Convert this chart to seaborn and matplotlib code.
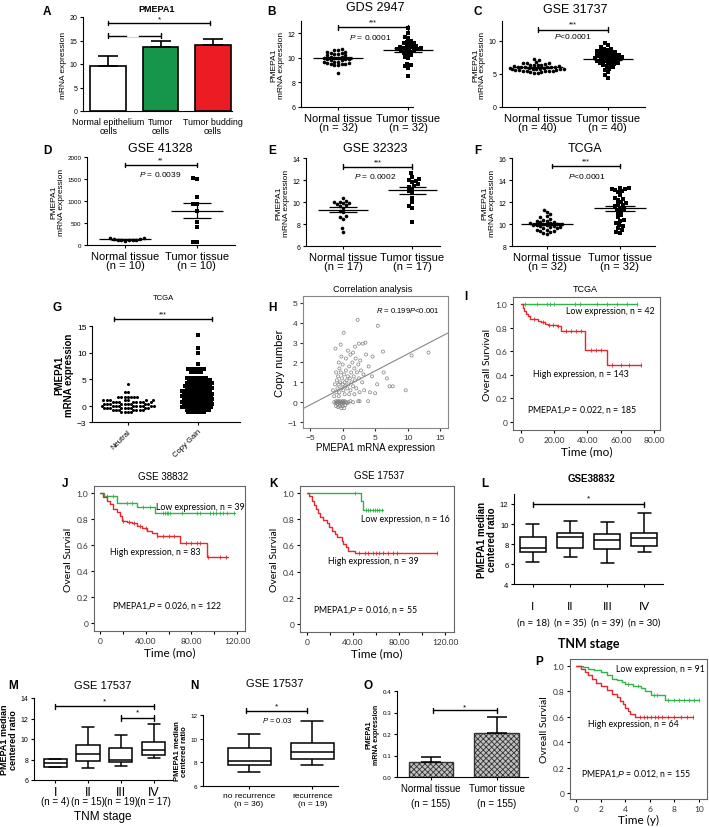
import numpy as np
import pandas as pd
import seaborn as sns
import matplotlib.pyplot as plt
import matplotlib.transforms as mtransforms

sns.set_style('ticks')
plt.rcParams['font.family'] = ['Liberation Sans', 'DejaVu Sans']
plt.rcParams['mathtext.fontset'] = 'custom'
plt.rcParams['mathtext.rm'] = 'Liberation Sans'
plt.rcParams['mathtext.it'] = 'Liberation Sans:italic'
plt.rcParams['text.color'] = 'black'
plt.rcParams['axes.labelcolor'] = 'black'
plt.rcParams['axes.edgecolor'] = 'black'
plt.rcParams['xtick.color'] = 'black'
plt.rcParams['ytick.color'] = 'black'
plt.rcParams['axes.linewidth'] = 0.8
plt.rcParams['xtick.major.width'] = 0.8
plt.rcParams['ytick.major.width'] = 0.8
plt.rcParams['xtick.major.size'] = 2.5
plt.rcParams['ytick.major.size'] = 2.5
plt.rcParams['xtick.major.pad'] = 1.5
plt.rcParams['ytick.major.pad'] = 1.5
plt.rcParams['hatch.linewidth'] = 0.6

W, H = 709, 828
GREEN = '#2fb44a'
RED = '#e8262b'

# ---------------- data ----------------
# A
a_groups = ['Normal epithelium\ncells', 'Tumor\ncells', 'Tumor budding\ncells']
a_means = [9.6, 13.6, 14.0]
a_errs = [2.2, 1.2, 1.4]
a_colors = ['white', '#16964a', '#ec1c24']

# B  GDS 2947
b_normal = [10.7, 10.6, 10.6, 10.5, 10.5, 10.4, 10.4, 10.3, 10.3, 10.2, 10.2, 10.1, 10.1,
            10.0, 10.0, 10.0, 9.9, 9.9, 9.9, 9.8, 9.8, 9.7, 9.7, 9.7, 9.6, 9.6, 9.5, 9.5,
            9.5, 9.4, 9.4, 8.8]
b_tumor = [12.4, 12.0, 11.7, 11.6, 11.4, 11.3, 11.2, 11.2, 11.1, 11.0, 11.0, 10.9, 10.9,
           10.8, 10.8, 10.8, 10.7, 10.7, 10.6, 10.6, 10.6, 10.5, 10.4, 10.3, 10.2, 10.1,
           10.0, 9.5, 9.4, 9.3, 9.2, 8.5]

# C  GSE 31737
c_normal = [7.2, 7.1, 6.8, 6.7, 6.7, 6.6, 6.5, 6.4, 6.4, 6.3, 6.3, 6.2, 6.2, 6.1, 6.1, 6.1,
            6.0, 6.0, 6.0, 5.9, 5.9, 5.9, 5.8, 5.8, 5.8, 5.7, 5.7, 5.7, 5.6, 5.6, 5.6, 5.5,
            5.5, 5.5, 5.4, 5.4, 5.3, 5.3, 5.2, 5.2]
c_tumor = [9.6, 9.3, 9.0, 8.8, 8.7, 8.6, 8.5, 8.4, 8.3, 8.2, 8.1, 8.0, 7.9, 7.8, 7.8, 7.7,
           7.6, 7.5, 7.5, 7.4, 7.4, 7.3, 7.2, 7.1, 7.0, 7.0, 6.9, 6.8, 6.7, 6.6, 6.5, 6.4,
           6.3, 6.2, 6.0, 5.8, 5.6, 5.3, 4.8, 4.4]

# D  GSE 41328
d_normal = [160, 150, 140, 135, 125, 120, 115, 110, 105, 100]
d_tumor = [1530, 1500, 1085, 935, 940, 780, 515, 400, 60, 60]

# E  GSE 32323
e_normal = [10.4, 10.1, 10.0, 10.0, 9.9, 9.9, 9.8, 9.7, 9.6, 9.5, 9.2, 9.1, 8.7, 8.6, 8.5,
            7.6, 7.3]
e_tumor = [12.6, 12.3, 12.1, 12.0, 11.9, 11.8, 11.6, 11.5, 11.4, 11.2, 11.0, 10.8, 10.4,
           10.0, 9.6, 9.5, 8.2]

# F  TCGA
f_normal = [11.3, 11.1, 10.9, 10.7, 10.6, 10.5, 10.4, 10.3, 10.3, 10.2, 10.2, 10.1, 10.1,
            10.0, 10.0, 10.0, 9.9, 9.9, 9.9, 9.8, 9.8, 9.7, 9.7, 9.6, 9.6, 9.5, 9.5, 9.4,
            9.4, 9.3, 9.2, 9.1]
f_tumor = [13.3, 13.3, 13.2, 13.2, 13.1, 13.0, 12.9, 12.6, 12.4, 12.3, 12.2, 12.0, 11.9,
           11.8, 11.7, 11.6, 11.5, 11.4, 11.3, 11.2, 11.0, 10.8, 10.6, 10.4, 10.3, 10.1,
           9.9, 9.8, 9.6, 9.5, 9.3, 9.2]

# G  TCGA copy number (dot rows: level and number of dots in the row)
g_neu_levels = [-1.2, -0.8, -0.4, 0.0, 0.4, 0.8, 1.1, 1.7, 2.6, 4.1]
g_neu_counts = [4, 7, 9, 10, 9, 8, 7, 7, 2, 1]
g_gain_levels = [-1.2, -0.7, -0.2, 0.3, 0.8, 1.3, 1.8, 2.3, 2.8, 3.3, 3.8, 4.3, 4.8, 5.3,
                 6.4, 7.0, 7.8, 10.0, 10.8, 13.3]
g_gain_counts = [6, 8, 10, 10, 10, 10, 10, 10, 10, 9, 9, 9, 8, 7, 4, 6, 1, 1, 1, 1]

# H  correlation
h_x = [-1.3, -1.1, -1.0, -0.9, -0.8, -0.7, -0.6, -0.5, -0.4, -0.3, -0.2, -0.1, 0.0, 0.1,
       0.2, 0.3, 0.5, 0.7, 0.9, 1.2, 1.6, 2.4, 3.9, -1.0, -0.7, -0.4, -0.2, 0.0, 0.2, 0.4,
       -1.5, -1.2, -1.0, -0.9, -0.8, -0.7, -0.6, -0.5, -0.4, -0.3, -0.2, -0.1, 0.0, 0.1,
       0.2, 0.3, 0.4, 0.5, 0.6, 0.7, 0.8, 0.9, 1.0, 1.1, 1.2, 1.3, 1.4, 1.5, 1.6, 1.7, 1.8,
       1.9, 2.0, 2.1, 2.2, 2.4, 2.5, 2.6, 2.8, 3.0, 3.2, 0.5, 0.0, -0.5, 1.2, 0.8, 1.6,
       -1.0, -0.2, 2.7, 3.3, 0.3, -0.6, 1.0, 1.8, -1.3,
       2.3, 5.4, 0.15, 3.1, 2.5, -1.1, 6.2, 10.6, 13.2, 4.6, -0.6, 6.3, 6.8, 7.7, 7.2, 9.7,
       5.0, 2.6, 4.5, 4.0, 3.6, 5.3, 4.2, 3.5, 1.9, -0.3]
h_y = [0.0, -0.05, 0.05, 0.0, -0.1, 0.05, 0.0, -0.05, 0.05, 0.0, -0.1, 0.0, 0.05, -0.05,
       0.0, 0.05, 0.0, -0.05, 0.0, 0.05, 0.0, 0.05, 0.05, -0.2, -0.25, -0.2, -0.3, -0.2,
       -0.3, -0.15,
       0.6, 0.9, 0.5, 1.1, 0.7, 1.3, 0.9, 0.5, 1.0, 1.5, 0.7, 1.2, 0.9, 0.6, 1.4, 1.0, 0.8,
       1.6, 1.1, 0.7, 1.3, 0.9, 1.8, 1.2, 0.6, 1.5, 1.0, 2.0, 0.8, 1.3, 1.7, 1.1, 2.2, 0.7,
       1.5, 1.9, 1.2, 0.5, 1.6, 1.0, 1.4, 2.2, 1.9, 1.7, 2.4, 2.6, 2.5, 1.5, 2.3, 2.1, 0.6,
       0.4, 0.3, 0.4, 0.4, 0.3,
       4.15, 3.85, 3.5, 2.95, 2.95, 2.7, 2.55, 2.35, 2.5, 2.3, 2.0, 1.5, 1.2, 0.8, 0.8,
       0.6, 0.45, 0.05, 1.3, 1.8, 2.4, 0.9, 0.5, 3.0, 2.8, 2.9]
h_slope = 0.171
h_intercept = 0.72

# I  TCGA survival
i_low_t = [0, 70]
i_low_s = [1.0, 1.0]
i_low_cens = [2.4, 9.6, 15.6, 17.4, 19.8, 32.4, 35.4, 45.6, 51.6, 57.6, 63.6, 69.6]
i_high_t = [0, 1.2, 2, 3, 4, 5.4, 10, 12, 14.5, 16, 21.7, 24, 38.5, 51.8, 72]
i_high_s = [1.0, 0.97, 0.94, 0.92, 0.9, 0.87, 0.86, 0.85, 0.83, 0.82, 0.81, 0.77, 0.61,
            0.485, 0.485]
i_high_cens = [8, 13, 17, 19, 22, 27, 30, 33, 36, 42, 45, 48, 55, 60, 65, 72]

# J  GSE 38832 survival
j_low_t = [0, 3.8, 14.6, 32, 48, 118]
j_low_s = [1.0, 0.98, 0.92, 0.89, 0.845, 0.845]
j_low_cens = [5.8, 11.7, 23.3, 27.7, 37.9, 43.8, 55.5, 57, 58.4, 59.9, 61.3, 71.5, 84.7,
              87.6, 96.3, 99.3, 102, 105, 108, 111, 117]
j_high_t = [0, 2.9, 5.8, 8.8, 11.7, 14.6, 17.5, 19.0, 23.3, 27.7, 32.0, 36.5, 40.9, 45.3,
            49.6, 70.0, 93.5, 112.5]
j_high_s = [1.0, 0.967, 0.941, 0.915, 0.877, 0.851, 0.826, 0.787, 0.779, 0.769, 0.749,
            0.731, 0.71, 0.692, 0.672, 0.615, 0.51, 0.51]
j_high_cens = [20, 25, 30, 35, 40, 50, 55, 60, 65, 75, 80, 85, 88, 95, 105, 110]

# K  GSE 17537 survival
k_low_t = [0, 47, 49, 66]
k_low_s = [1.0, 0.94, 0.87, 0.87]
k_low_cens = [41.7, 51, 53, 55, 57, 59, 61, 63, 65]
k_high_t = [0, 2.0, 4.1, 6.1, 7.8, 9.9, 11.3, 14.2, 17.1, 19.4, 21.4, 24.3, 26.4, 30.1,
            31.6, 33.9, 35.9, 41.7, 112.8]
k_high_s = [1.0, 0.975, 0.942, 0.909, 0.879, 0.848, 0.82, 0.797, 0.769, 0.738, 0.713,
            0.687, 0.662, 0.637, 0.611, 0.586, 0.56, 0.54, 0.54]
k_high_cens = [45, 50, 53, 57, 60, 63, 66, 70, 75, 78, 112.8]

# L  GSE38832 TNM stage (min, Q1, median, Q3, max)
l_stages = ['I', 'II', 'III', 'IV']
l_n = [18, 35, 39, 30]
l_stats = [[6.2, 7.2, 7.58, 8.75, 10.0],
           [6.7, 7.58, 8.7, 9.1, 10.3],
           [6.1, 7.5, 8.4, 9.0, 10.25],
           [7.2, 7.8, 8.6, 9.15, 11.1]]

# M  GSE 17537 TNM stage
m_stages = ['I', 'II', 'III', 'IV']
m_n = [4, 15, 19, 17]
m_stats = [[7.25, 7.28, 7.7, 8.03, 8.05],
           [7.2, 7.9, 8.55, 9.38, 11.15],
           [7.38, 7.77, 7.93, 9.08, 10.43],
           [8.16, 8.43, 8.92, 9.7, 11.48]]

# N  GSE 17537 recurrence
n_groups = ['no recurrence', 'recurrence']
n_n = [36, 19]
n_stats = [[7.15, 7.75, 8.1, 9.2, 10.4],
           [7.75, 8.25, 8.85, 9.6, 11.5]]

# O
o_groups = ['Normal tissue', 'Tumor tissue']
o_means = [0.07, 0.205]
o_errs = [0.023, 0.075]

# P
p_low_t = [0, 0.6, 1.0, 1.5, 2.0, 2.5, 2.9, 3.3, 3.7, 4.0, 4.6, 5.3, 5.6, 6.1, 7.2, 10.0]
p_low_s = [1.0, 0.99, 0.98, 0.965, 0.95, 0.93, 0.9, 0.89, 0.875, 0.858, 0.845, 0.824,
           0.8, 0.775, 0.735, 0.735]
p_low_cens = [4.2, 5.0, 6.3, 6.6, 7.5, 8.0, 8.4, 8.8, 9.2, 9.6, 10.0]
p_high_t = [0, 0.4, 0.7, 1.0, 1.3, 1.6, 2.0, 2.5, 2.9, 3.3, 3.6, 3.8, 4.0, 4.2, 4.4, 4.8,
            9.5]
p_high_s = [1.0, 0.98, 0.95, 0.93, 0.9, 0.87, 0.845, 0.81, 0.78, 0.755, 0.727, 0.7, 0.67,
            0.645, 0.62, 0.6, 0.6]
p_high_cens = [5.2, 5.5, 5.8, 6.1, 6.4, 6.7, 7.0, 7.5, 8.0, 8.5, 9.0, 9.5]

# ---------------- helpers ----------------
fig = plt.figure(figsize=(W / 100, H / 100), dpi=100)


def add_ax(l, t, r, b):
    return fig.add_axes([l / W, 1 - b / H, (r - l) / W, (b - t) / H])


def ftext(x, y, s, **kw):
    kw.setdefault('ha', 'center')
    kw.setdefault('va', 'center')
    fig.text(x / W, 1 - y / H, s, **kw)


def bracket(ax, x0, x1, y, h, text=None, ty=None, fs=6):
    ax.plot([x0, x1], [y, y], color='black', lw=1, clip_on=False)
    ax.plot([x0, x0], [y - h, y + h], color='black', lw=1, clip_on=False)
    ax.plot([x1, x1], [y - h, y + h], color='black', lw=1, clip_on=False)
    if text:
        ax.text((x0 + x1) / 2, ty, text, ha='center', va='center', fontsize=fs)


def dots(ax, normal, tumor, n, xlim, ylim, yticks, size=2.6):
    df = pd.DataFrame({'group': ['Normal'] * len(normal) + ['Tumor'] * len(tumor),
                       'value': list(normal) + list(tumor)})
    order = ['Normal', 'Tumor']
    for grp, mk in zip(order, ['o', 's']):
        sns.swarmplot(data=df[df.group == grp], x='group', y='value', order=order,
                      color='black', marker=mk, size=size, linewidth=0, ax=ax,
                      warn_thresh=1)
    for i, vals in enumerate([normal, tumor]):
        m = np.mean(vals)
        se = np.std(vals, ddof=1) / np.sqrt(len(vals))
        ax.hlines(m, i - 0.36, i + 0.36, color='black', lw=0.9, zorder=3)
        ax.vlines(i, m - se, m + se, color='black', lw=0.9, zorder=3)
        ax.hlines([m - se, m + se], i - 0.2, i + 0.2, color='black', lw=0.9, zorder=3)
    for c in ax.collections:
        c.set_clip_on(False)
    ax.set_xlim(*xlim)
    ax.set_ylim(*ylim)
    ax.set_yticks(yticks)
    ax.set_xticks([0, 1])
    ax.set_xticklabels([f'Normal tissue\n(n = {n})', f'Tumor tissue\n(n = {n})'],
                       fontsize=8, linespacing=0.95)
    ax.tick_params(axis='y', labelsize=5)
    ax.set_xlabel('')
    ax.set_ylabel('PMEPA1\nmRNA expression', fontsize=6, linespacing=1.0, labelpad=2)
    sns.despine(ax=ax)


def km_curve(ax, t, s, cens, color):
    sns.lineplot(x=t, y=s, drawstyle='steps-post', estimator=None, color=color,
                 lw=1, ax=ax)
    idx = np.searchsorted(t, cens, side='right') - 1
    ax.plot(cens, np.array(s)[idx], linestyle='none', marker='|', ms=2.5, mew=0.6,
            color=color)


def km_axes(ax, xlim, ylim, xticks, xlabels, ylabel, xlabel):
    ax.set_xlim(*xlim)
    ax.set_ylim(*ylim)
    ax.set_yticks([0, 0.2, 0.4, 0.6, 0.8, 1.0])
    ax.set_yticklabels(['0', '0.2', '0.4', '0.6', '0.8', '1.0'])
    ax.set_xticks(xticks)
    ax.set_xticklabels(xlabels)
    ax.tick_params(labelsize=6)
    for lbl in ax.get_xticklabels() + ax.get_yticklabels():
        lbl.set_family('Lato')
        lbl.set_color('#333333')
    for sp in ax.spines.values():
        sp.set_color('#666666')
        sp.set_linewidth(0.8)
    ax.set_ylabel(ylabel, fontsize=7.5, family='Lato', labelpad=3)
    ax.set_xlabel(xlabel, fontsize=8.5, family='Lato', labelpad=2)


def boxes(ax, labels, stats, width):
    x = [lab for lab, st in zip(labels, stats) for _ in st]
    y = [v for st in stats for v in st]
    sns.boxplot(x=x, y=y, order=labels, whis=(0, 100), width=width, color='white',
                linecolor='black', linewidth=1.1, ax=ax)
    ax.set_xlabel('')
    sns.despine(ax=ax)


LAB = dict(fontsize=8.5, fontweight='bold')

# ---------------- A ----------------
ax = add_ax(83, 18, 232, 112)
sns.barplot(x=a_groups, y=a_means, hue=a_groups, palette=a_colors, legend=False,
            saturation=1, edgecolor='black', linewidth=1.2, width=0.68, ax=ax)
ax.errorbar(range(3), a_means, yerr=[np.zeros(3), a_errs], fmt='none', ecolor='black',
            elinewidth=1.2, capsize=7, capthick=1.2)
ax.set_xlim(-0.48, 2.36)
ax.set_ylim(0, 20)
ax.set_yticks([0, 5, 10, 15, 20])
ax.tick_params(axis='y', labelsize=5)
ax.tick_params(axis='x', labelsize=6.4, length=0, pad=4.5)
for lbl in ax.get_xticklabels():
    lbl.set_linespacing(0.95)
ax.set_ylabel('mRNA expression', fontsize=6, labelpad=2)
bracket(ax, 0, 1.94, 18.7, 0.5, '*', 19.7)
bracket(ax, 0, 1.0, 16.0, 0.5)
ax.plot([0.37, 0.57], [16.0, 16.0], color='white', lw=1.6, clip_on=False)
sns.despine(ax=ax)
ftext(157, 10, 'PMEPA1', fontsize=6.5, fontweight='bold')
ftext(47, 12, 'A', **LAB)

# ---------------- B ----------------
ax = add_ax(301, 22, 413, 108)
dots(ax, b_normal, b_tumor, 32, (-0.53, 1.07), (6, 13), [6, 8, 10, 12])
bracket(ax, 0, 1, 12.5, 0.2, '***', 12.95, fs=5)
ax.text(0.46, 11.75, '$P$ = 0.0001', ha='center', va='center', fontsize=6)
ftext(375, 8, 'GDS 2947', fontsize=9)
ftext(272, 12, 'B', **LAB)

# ---------------- C ----------------
ax = add_ax(502, 22, 645, 108)
dots(ax, c_normal, c_tumor, 40, (-0.51, 1.53), (0, 13), [0, 5, 10])
bracket(ax, 0, 1, 11.7, 0.35, '***', 12.6, fs=5)
ax.text(0.5, 10.75, '$P$<0.0001', ha='center', va='center', fontsize=6)
ftext(575, 10, 'GSE 31737', fontsize=9)
ftext(478, 12, 'C', **LAB)

# ---------------- D ----------------
ax = add_ax(87, 158, 235, 246)
dots(ax, d_normal, d_tumor, 10, (-0.53, 1.53), (0, 2000), [0, 500, 1000, 1500, 2000])
ax.tick_params(axis='y', labelsize=4.5)
bracket(ax, 0, 1, 1818, 55, '**', 1930, fs=5)
ax.text(0.49, 1636, '$P$ = 0.0039', ha='center', va='center', fontsize=6)
ftext(160, 149, 'GSE 41328', fontsize=9)
ftext(47, 151, 'D', **LAB)

# ---------------- E ----------------
ax = add_ax(306, 159, 440, 247)
dots(ax, e_normal, e_tumor, 17, (-0.54, 1.4), (6, 14), [6, 8, 10, 12, 14])
bracket(ax, 0, 1, 13.2, 0.22, '***', 13.65, fs=5)
ax.text(0.46, 12.45, '$P$ = 0.0002', ha='center', va='center', fontsize=6)
ftext(375, 149, 'GSE 32323', fontsize=9)
ftext(272, 151, 'E', **LAB)

# ---------------- F ----------------
ax = add_ax(512, 159, 655, 247)
dots(ax, f_normal, f_tumor, 32, (-0.48, 1.48), (8, 16), [8, 10, 12, 14, 16])
bracket(ax, 0.07, 1, 15.27, 0.22, '***', 15.75, fs=5)
ax.text(0.55, 14.45, '$P$<0.0001', ha='center', va='center', fontsize=6)
ftext(585, 149, 'TCGA', fontsize=9)
ftext(478, 151, 'F', **LAB)

# ---------------- G ----------------
ax = add_ax(92, 327, 240, 423)
g_df = pd.DataFrame({
    'group': ['Neutral'] * int(np.sum(g_neu_counts)) + ['Copy Gain'] * int(np.sum(g_gain_counts)),
    'value': np.concatenate([np.repeat(g_neu_levels, g_neu_counts),
                             np.repeat(g_gain_levels, g_gain_counts)])})
g_order = ['Neutral', 'Copy Gain']
for grp, mk in zip(g_order, ['o', 's']):
    sns.swarmplot(data=g_df[g_df.group == grp], x='group', y='value', order=g_order,
                  color='black', marker=mk, size=2.2, linewidth=0, ax=ax, warn_thresh=1)
ax.set_xlim(-0.51, 1.6)
ax.set_ylim(-3, 15)
ax.set_yticks([-3, 0, 5, 10, 15])
ax.tick_params(axis='y', labelsize=6)
ax.set_xticks([0, 1])
ax.set_xticklabels(g_order, rotation=45, ha='right', rotation_mode='anchor', fontsize=5.5)
ax.set_xlabel('')
ax.set_ylabel('PMEPA1\nmRNA expression', fontsize=7, fontweight='bold', linespacing=1.0,
              labelpad=2)
bracket(ax, -0.19, 1.2, 16.3, 0.45, '***', 17.3, fs=5)
sns.despine(ax=ax)
ftext(163, 298, 'TCGA', fontsize=5.5)
ftext(57, 308, 'G', **LAB)

# ---------------- H ----------------
ax = add_ax(303, 297, 448, 429)
sns.scatterplot(x=h_x, y=h_y, marker='o', facecolors='none', edgecolor='#808080', s=5,
                linewidth=0.5, ax=ax)
ax.axline((0, h_intercept), slope=h_slope, color='#888888', lw=0.8)
ax.set_xlim(-6.1, 16.2)
ax.set_ylim(-1.3, 5.35)
ax.set_xticks([-5, 0, 5, 10, 15])
ax.set_yticks([-1, 0, 1, 2, 3, 4, 5])
ax.tick_params(labelsize=6, colors='#333333')
for sp in ax.spines.values():
    sp.set_color('#888888')
ax.set_xlabel('PMEPA1 mRNA expression', fontsize=7, labelpad=1)
ax.set_ylabel('Copy number', fontsize=8, labelpad=2)
ax.text(0.72, 0.9, '$R$ = 0.199$P$<0.001', transform=ax.transAxes, ha='center',
        va='center', fontsize=5.5)
ftext(373, 290, 'Correlation analysis', fontsize=6.5)
ftext(272, 308, 'H', **LAB)

# ---------------- I ----------------
ax = add_ax(513, 298, 660, 431)
km_curve(ax, i_low_t, i_low_s, i_low_cens, GREEN)
km_curve(ax, i_high_t, i_high_s, i_high_cens, RED)
km_axes(ax, (-4.8, 83.6), (-0.068, 1.06), [0, 20, 40, 60, 80],
        ['0', '20.00', '40.00', '60.00', '80.00'], 'Overall Survival', 'Time (mo)')
ftext(610, 311, 'Low expression, n = 42', fontsize=6.3, family='Lato')
ftext(581, 375, 'High expression, n = 143', fontsize=6.3, family='Lato')
ftext(582, 410, 'PMEPA1,$P$ = 0.022, n = 185', fontsize=6.3, family='Lato')
ftext(585, 290, 'TCGA', fontsize=6.5)
ftext(466, 297, 'I', **LAB)

# ---------------- J ----------------
ax = add_ax(94, 487, 245, 632)
km_curve(ax, j_low_t, j_low_s, j_low_cens, GREEN)
km_curve(ax, j_high_t, j_high_s, j_high_cens, RED)
km_axes(ax, (-5.3, 127), (-0.06, 1.054), [0, 40, 80, 120],
        ['0', '40.00', '80.00', '120.00'], 'Overal Survial', 'Time (mo)')
ax.set_xticks([20, 60, 100], minor=True)
ax.tick_params(which='minor', length=2.5, width=0.8)
ftext(200, 507, 'Low expression, n = 39', fontsize=6.3, family='Lato')
ftext(155, 553, 'High expression, n = 83', fontsize=6.3, family='Lato')
ftext(167, 606, 'PMEPA1,$P$ = 0.026, n = 122', fontsize=6.3, family='Lato')
ftext(163, 477, 'GSE 38832', fontsize=7)
ftext(65, 484, 'J', **LAB)

# ---------------- K ----------------
ax = add_ax(300, 487, 454, 633)
km_curve(ax, k_low_t, k_low_s, k_low_cens, GREEN)
km_curve(ax, k_high_t, k_high_s, k_high_cens, RED)
km_axes(ax, (-6.1, 127.8), (-0.061, 1.053), [0, 40, 80, 120],
        ['0', '40.00', '80.00', '120.00'], 'Overal Survial', 'Time (mo)')
ax.set_xticks([20, 60, 100], minor=True)
ax.tick_params(which='minor', length=2.5, width=0.8)
ftext(405, 520, 'Low expression, n = 16', fontsize=6.3, family='Lato')
ftext(373, 562, 'High expression, n = 39', fontsize=6.3, family='Lato')
ftext(365, 610, 'PMEPA1,$P$ = 0.016, n = 55', fontsize=6.3, family='Lato')
ftext(379, 476, 'GSE 17537', fontsize=7)
ftext(273, 484, 'K', **LAB)

# ---------------- L ----------------
ax = add_ax(514, 495, 663, 585)
boxes(ax, l_stages, l_stats, 0.7)
ax.set_xlim(-0.51, 3.5)
ax.set_ylim(4, 13)
ax.set_yticks([4, 6, 8, 10, 12])
ax.tick_params(axis='y', labelsize=5.5)
ax.tick_params(axis='x', pad=9)
ax.set_xticklabels(l_stages, fontsize=8.5, family='Lato')
ax.set_ylabel('PMEPA1 median\ncentered ratio', fontsize=7, fontweight='bold',
              linespacing=1.0, labelpad=2)
bracket(ax, 0, 3, 12.0, 0.25, '*', 12.65, fs=6)
trans = mtransforms.blended_transform_factory(ax.transData, fig.transFigure)
for i, n in enumerate(l_n):
    ax.text(i, 1 - 623 / H, f'(n = {n})', transform=trans, ha='center', va='center',
            fontsize=7, family='Lato')
ftext(589, 644, 'TNM stage', fontsize=9, family='Lato', fontweight='bold')
ftext(592, 479, 'GSE38832', fontsize=7, fontweight='bold')
ftext(485, 484, 'L', **LAB)

# ---------------- M ----------------
ax = add_ax(34, 699, 172, 781)
boxes(ax, m_stages, m_stats, 0.7)
ax.set_xlim(-0.64, 3.55)
ax.set_ylim(6, 14)
ax.set_yticks([6, 8, 10, 12, 14])
ax.tick_params(axis='y', labelsize=5)
ax.set_xticklabels(m_stages, fontsize=9)
ax.set_ylabel('PMEPA1 median\ncentered ratio', fontsize=6.5, fontweight='bold',
              linespacing=1.0, labelpad=2)
bracket(ax, 0, 3, 13.2, 0.25, '*', 13.75, fs=6)
bracket(ax, 2, 3, 12.05, 0.25, '*', 12.6, fs=6)
trans = mtransforms.blended_transform_factory(ax.transData, fig.transFigure)
for i, n in enumerate(m_n):
    ax.text(i, 1 - 802 / H, f'(n = {n})', transform=trans, ha='center', va='center',
            fontsize=7)
ftext(103, 817, 'TNM stage', fontsize=8.5)
ftext(103, 686, 'GSE 17537', fontsize=8)
ftext(13, 686, 'M', **LAB)

# ---------------- N ----------------
ax = add_ax(203, 716, 338, 787)
boxes(ax, n_groups, n_stats, 0.68)
ax.set_xlim(-0.73, 1.41)
ax.set_ylim(6, 12)
ax.set_yticks([6, 8, 10, 12])
ax.tick_params(axis='y', labelsize=4.5)
ax.set_xticklabels([f'{g}\n(n = {n})' for g, n in zip(n_groups, n_n)], fontsize=6,
                   linespacing=1.2)
ax.set_ylabel('PMEPA1 median\ncentered ratio', fontsize=5.5, fontweight='bold',
              linespacing=1.0, labelpad=2)
bracket(ax, -0.05, 0.92, 12.35, 0.2, '*', 12.75, fs=6)
ax.text(0.44, 11.6, '$P$ = 0.03', ha='center', va='center', fontsize=5.5)
ftext(275, 684, 'GSE 17537', fontsize=8)
ftext(194, 686, 'N', **LAB)

# ---------------- O ----------------
ax = add_ax(397, 692, 528, 778)
sns.barplot(x=o_groups, y=o_means, color='#c0c0c0', saturation=1, edgecolor='#333333',
            linewidth=1, hatch='xxxxxx', width=0.68, ax=ax)
ax.errorbar(range(2), o_means, yerr=[np.zeros(2), o_errs], fmt='none', ecolor='black',
            elinewidth=1.1, capsize=7, capthick=1.1)
ax.set_xlim(-0.52, 1.48)
ax.set_ylim(0, 0.4)
ax.set_yticks([0.0, 0.1, 0.2, 0.3, 0.4])
ax.tick_params(axis='y', labelsize=4.5)
ax.set_xticklabels([f'{g}\n(n = 155)' for g in o_groups], fontsize=7, linespacing=1.7)
ax.set_xlabel('')
ax.set_ylabel('PMEPA1\nmRNA expression', fontsize=5, fontweight='bold', linespacing=1.0,
              labelpad=2)
bracket(ax, 0.03, 1.0, 0.31, 0.011, '*', 0.328, fs=6)
sns.despine(ax=ax)
ftext(368, 686, 'O', **LAB)

# ---------------- P ----------------
ax = add_ax(570, 660, 707, 800)
km_curve(ax, p_low_t, p_low_s, p_low_cens, GREEN)
km_curve(ax, p_high_t, p_high_s, p_high_cens, RED)
km_axes(ax, (-0.49, 10.65), (-0.047, 1.055), [0, 2, 4, 6, 8, 10],
        ['0', '2', '4', '6', '8', '10'], 'Ovreall Survial', 'Time (y)')
ftext(660, 670, 'Low expression, n = 91', fontsize=6.3, family='Lato')
ftext(633, 725, 'High expression, n = 64', fontsize=6.3, family='Lato')
ftext(636, 774, 'PMEPA1,$P$ = 0.012, n = 155', fontsize=6.3, family='Lato')
ftext(539, 662, 'P', **LAB)

fig.savefig('out.png', dpi=100)
